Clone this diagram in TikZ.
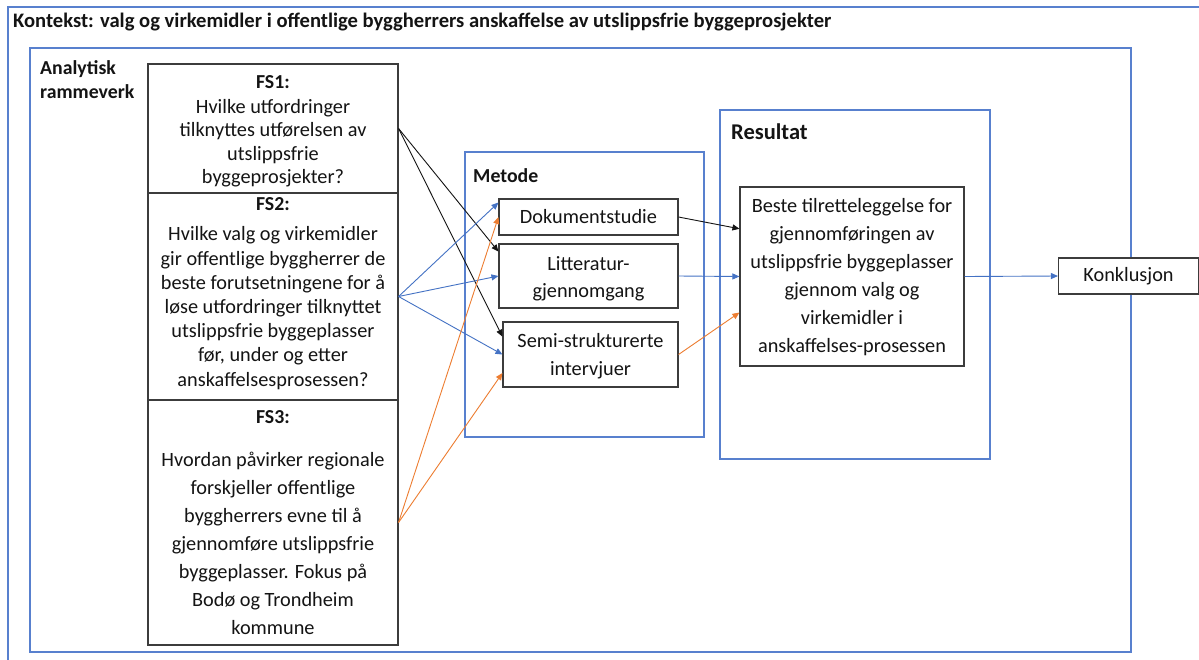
\documentclass[tikz,border=0pt]{standalone}
\usepackage{fontspec}
\setmainfont{Carlito}
\usetikzlibrary{arrows.meta,calc}
\definecolor{frameblue}{RGB}{88,128,206}
\definecolor{lineblue}{RGB}{68,114,196}
\definecolor{lineorange}{RGB}{237,125,49}
\definecolor{boxedge}{RGB}{60,60,60}
\definecolor{ink}{RGB}{20,20,20}
\begin{document}
\begin{tikzpicture}[x=1pt,y=-1pt,
  container/.style={draw=frameblue,line width=1.5pt},
  qbox/.style={draw=boxedge,line width=1.1pt,inner sep=0pt,fill=white},
  txt/.style={font=\fontsize{20.3}{24}\selectfont,align=center,inner sep=0pt,text=ink},
  head/.style={font=\fontsize{19.8}{24}\selectfont\bfseries,inner sep=0pt,text=ink},
  link/.style={line width=0.9pt,-{Triangle[length=7pt,width=6pt]}},
  blk/.style={link,draw=ink},
  blu/.style={link,draw=lineblue},
  org/.style={link,draw=lineorange}]
\useasboundingbox (0,0) rectangle (1199,659);
\clip (0,0) rectangle (1199,659);
\fill[white] (0,0) rectangle (1199,659);

% context frame and framework frame
\draw[container] (8,7) rectangle (1230,690);
\node[head,font=\fontsize{20.6}{24}\selectfont\bfseries,anchor=west] (kontekst) at (13,22.5)
  {Kontekst: valg og virkemidler i offentlige byggherrers anskaffelse av utslippsfrie byggeprosjekter};
\draw[container] (30,48) rectangle (1131,652);
\node[head,align=left,anchor=north west] (ramme) at (40,60) {Analytisk\\rammeverk};

% research questions
\node[qbox,minimum width=250pt,minimum height=129pt] (fs1) at (273,128.5) {};
\node[qbox,minimum width=250pt,minimum height=207pt] (fs2) at (273,296.5) {};
\node[qbox,minimum width=250pt,minimum height=245pt] (fs3) at (273,522.5) {};
\node[head] (h1) at (273,82) {FS1:};
\node[txt,font=\fontsize{20.3}{23.5}\selectfont] (t1) at (273,143)
  {Hvilke utfordringer\\tilknyttes utførelsen av\\utslippsfrie\\byggeprosjekter?};
\node[head] (h2) at (273,204) {FS2:};
\node[txt,font=\fontsize{20.3}{24.2}\selectfont] (t2) at (273,308)
  {Hvilke valg og virkemidler\\gir offentlige byggherrer de\\beste forutsetningene for å\\løse utfordringer tilknyttet\\utslippsfrie byggeplasser\\før, under og etter\\anskaffelsesprosessen?};
\node[head] (h3) at (273,417) {FS3:};
\node[txt,font=\fontsize{20.3}{28}\selectfont] (t3) at (273,543)
  {Hvordan påvirker regionale\\forskjeller offentlige\\byggherrers evne til å\\gjennomføre utslippsfrie\\byggeplasser. Fokus på\\Bodø og Trondheim\\kommune};

% method frame
\draw[container] (465,152) rectangle (704,437);
\node[head,anchor=west] (metode) at (473,176) {Metode};
\node[qbox,minimum width=179pt,minimum height=36pt] (dok) at (588.5,217) {};
\node[txt] at (dok.center) {Dokumentstudie};
\node[qbox,minimum width=179pt,minimum height=64pt] (litt) at (588.5,276) {};
\node[txt,font=\fontsize{20.3}{27}\selectfont] at (588.5,278.5) {Litteratur-\\gjennomgang};
\node[qbox,minimum width=175pt,minimum height=65pt] (semi) at (590.5,354.5) {};
\node[txt,font=\fontsize{20.3}{28}\selectfont] at (590.5,356) {Semi-strukturerte\\intervjuer};

% result frame
\draw[container] (720,110) rectangle (990,459);
\node[head,font=\fontsize{22.5}{26}\selectfont\bfseries,anchor=west] (resultat) at (731,132) {Resultat};
\node[qbox,minimum width=224pt,minimum height=179pt] (res) at (852,276.5) {};
\node[txt,font=\fontsize{20.3}{28}\selectfont] at (852,277)
  {Beste tilretteleggelse for\\gjennomføringen av\\utslippsfrie byggeplasser\\gjennom valg og\\virkemidler i\\anskaffelses-prosessen};

% conclusion
\node[qbox,minimum width=140pt,minimum height=36pt] (konk) at (1128.5,276) {};
\node[txt] at (konk.center) {Konklusjon};

% FS1 links
\draw[blk] (fs1.east) -- ($(litt.north west)!0.125!(litt.south west)$);
\draw[blk] (fs1.east) -- ($(semi.north west)!0.23!(semi.south west)$);
% FS2 links
\draw[blu] (fs2.east) -- ($(dok.north west)!0.11!(dok.south west)$);
\draw[blu] (fs2.east) -- (litt.west);
\draw[blu] (fs2.east) -- (semi.west);
% FS3 links
\draw[org] (fs3.east) -- (dok.west);
\draw[org] (fs3.east) -- ($(semi.north west)!0.78!(semi.south west)$);
% methods to result
\draw[blk] (dok.east) -- ($(res.north west)!0.235!(res.south west)$);
\draw[blu] (litt.east) -- (res.west);
\draw[org] (semi.east) -- ($(res.north west)!0.70!(res.south west)$);
% result to conclusion
\draw[blu] (res.east) -- (konk.west);
\end{tikzpicture}
\end{document}
